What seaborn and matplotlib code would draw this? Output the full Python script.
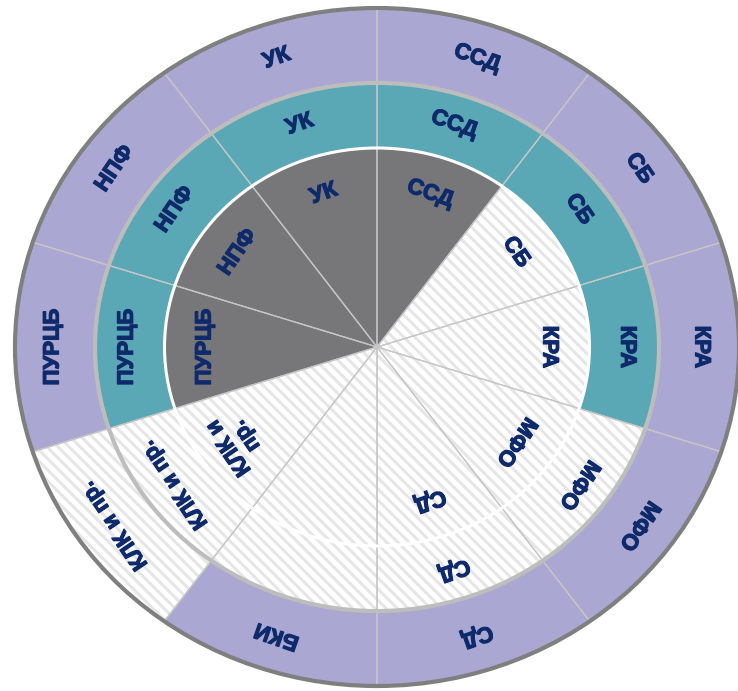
import numpy as np
import seaborn as sns
import matplotlib
matplotlib.use('Agg')
import matplotlib.pyplot as plt
import matplotlib.patheffects as pe
from matplotlib.patches import Circle

# сектора по часовой стрелке от 12 часов
sectors = ['ССД', 'СБ', 'КРА', 'МФО', 'СД', 'БКИ', 'КЛК и пр.', 'ПУРЦБ', 'НПФ', 'УК']
shares = [1, 1, 1, 1, 1, 1, 1, 1, 1, 1]

# 1 - сектор закрашен, 0 - белая штриховка
outer_on = [1, 1, 1, 1, 1, 1, 0, 1, 1, 1]
middle_on = [1, 1, 1, 0, 0, 0, 0, 1, 1, 1]
inner_on = [1, 0, 0, 0, 0, 0, 0, 1, 1, 1]

outer_labels = ['ССД', 'СБ', 'КРА', 'МФО', 'СД', 'БКИ', 'КЛК и пр.', 'ПУРЦБ', 'НПФ', 'УК']
middle_labels = ['ССД', 'СБ', 'КРА', 'МФО', 'СД', '', 'КЛК и пр.', 'ПУРЦБ', 'НПФ', 'УК']
inner_labels = ['ССД', 'СБ', 'КРА', 'МФО', 'СД', '', 'КЛК и\nпр.', 'ПУРЦБ', 'НПФ', 'УК']

sns.set_style('white')
plt.rcParams['font.family'] = ['Liberation Sans', 'DejaVu Sans']
plt.rcParams['hatch.linewidth'] = 2.2

purple = '#aba7d3'
teal = '#5aa8b5'
grey = '#777678'
navy = '#0f2a6b'

# пикселей на единицу радиуса (картинка слегка растянута по горизонтали)
sx, sy = 362.0, 339.0

fig = plt.figure(figsize=(7.38, 6.91), dpi=100)
ax = fig.add_axes([0, 0, 1, 1])

thick = [pe.withStroke(linewidth=0.9, foreground=navy)]


def ring(radius, width, color, on, labels, lab_r):
    cols = [color if f else 'white' for f in on]
    hatches = ['' if f else '\\\\\\' for f in on]
    wp = dict(linewidth=0, edgecolor='#e6e6e6')
    lp = dict(linewidth=0.9, edgecolor='#c6c6c6', fill=False)
    if width:
        wp['width'] = width
        lp['width'] = width
    wedges, _ = ax.pie(shares, radius=radius, colors=cols, hatch=hatches,
                       startangle=90, counterclock=False, wedgeprops=wp)
    ax.pie(shares, radius=radius, colors=cols, startangle=90,
           counterclock=False, wedgeprops=lp)
    for w, lab in zip(wedges, labels):
        if not lab:
            continue
        mid = np.deg2rad((w.theta1 + w.theta2) / 2)
        x, y = lab_r * np.cos(mid), lab_r * np.sin(mid)
        ang = np.rad2deg(np.arctan2(np.sin(mid) * sy, np.cos(mid) * sx))
        ax.text(x, y, lab, rotation=ang - 90, rotation_mode='anchor',
                ha='center', va='center', fontsize=16, fontweight='bold',
                color=navy, linespacing=1.0, zorder=10, path_effects=thick)


ring(1.0, 1.0 - 0.779, purple, outer_on, outer_labels, 0.895)
ring(0.779, 0.779 - 0.587, teal, middle_on, middle_labels, 0.69)
ring(0.587, None, grey, inner_on, inner_labels, 0.475)

ax.add_patch(Circle((0, 0), 0.587, fill=False, ec='white', lw=2.2, zorder=5))
ax.add_patch(Circle((0, 0), 0.779, fill=False, ec='#bdbdbd', lw=3, zorder=5))
ax.add_patch(Circle((0, 0), 1.0, fill=False, ec='#7f7f7f', lw=3, zorder=5))

ax.set_aspect('auto')
ax.set_xlim(-377 / sx, 361 / sx)
ax.set_ylim(-344 / sy, 347 / sy)
ax.axis('off')

fig.savefig('out.png', dpi=100)
